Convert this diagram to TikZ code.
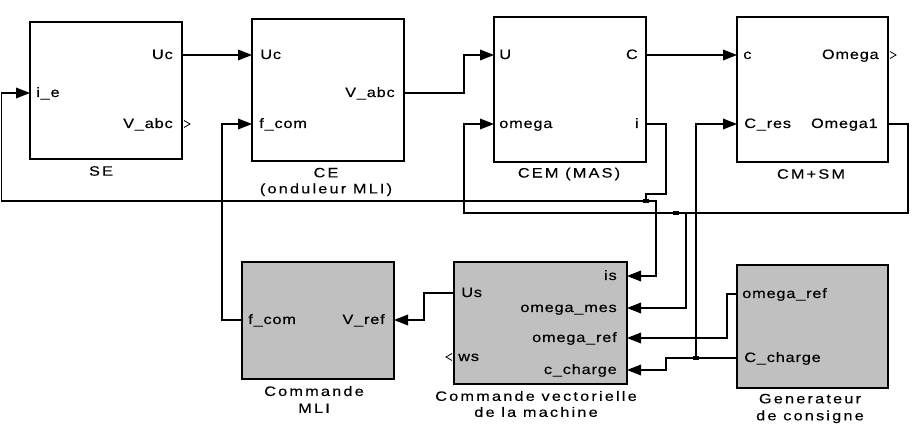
\documentclass[tikz,border=0pt]{standalone}
\usepackage{fontspec}
\setmainfont{Liberation Sans}
\newfontfamily\portfont[FakeStretch=1.2,LetterSpace=6,FakeBold=0.3]{Liberation Sans}
\newfontfamily\capfont[FakeStretch=1.2,LetterSpace=16,FakeBold=0.3]{Liberation Sans}
\usetikzlibrary{arrows.meta}
\definecolor{simgray}{RGB}{192,192,192}
\tikzset{
  blk/.style={draw, line width=1.5pt, fill=white, inner sep=0pt, outer sep=0pt},
  gblk/.style={blk, fill=simgray},
  conn/.style={line width=0.95pt},
  arr/.style={conn, -{Triangle[length=10.5pt,width=8pt]}},
  plab/.style={font=\portfont\fontsize{10.2}{11}\selectfont, inner sep=0pt},
  captext/.style={font=\capfont\fontsize{10.2}{12}\selectfont, align=center, inner sep=0pt},
  jdot/.style={fill, minimum width=4.5pt, minimum height=3.5pt, inner sep=0pt},
  omark/.style={line width=0.6pt},
}
\begin{document}
\begin{tikzpicture}[x=0.75pt,y=-0.75pt]
\useasboundingbox[fill=white] (0,0) rectangle (915,424);
% blocks
\node[blk,  minimum width=114pt,    minimum height=102.75pt] (SE)   at (106,90.5) {};
\node[blk,  minimum width=114pt,    minimum height=106.5pt]  (CE)   at (328,90)   {};
\node[blk,  minimum width=114pt,    minimum height=108.75pt] (CEM)  at (570,89.5) {};
\node[blk,  minimum width=113.25pt, minimum height=108.75pt] (CMSM) at (812.5,89.5) {};
\node[gblk, minimum width=114pt,    minimum height=87.75pt]  (MLI)  at (318,320.5) {};
\node[gblk, minimum width=129.75pt, minimum height=91.5pt]   (CV)   at (540.5,323) {};
\node[gblk, minimum width=113.25pt, minimum height=92.25pt]  (GEN)  at (812.5,326.5) {};
% port labels
\node[plab, anchor=base west] (se-ie) at (36,97)  {i\_e};
\node[plab, anchor=base east] (se-uc) at (173,59) {Uc};
\node[plab, anchor=base east] (se-v)  at (173,128) {V\_abc};
\node[plab, anchor=base west] (ce-uc) at (260,59) {Uc};
\node[plab, anchor=base west] (ce-f)  at (259,128) {f\_com};
\node[plab, anchor=base east] (ce-v)  at (395,97) {V\_abc};
\node[plab, anchor=base west] (cem-u) at (499,59) {U};
\node[plab, anchor=base west] (cem-om) at (499,128) {omega};
\node[plab, anchor=base east] (cem-c) at (638,59) {C};
\node[plab, anchor=base east] (cem-i) at (639,128) {i};
\node[plab, anchor=base west] (cm-c)  at (743,59) {c};
\node[plab, anchor=base west] (cm-cres) at (744,128) {C\_res};
\node[plab, anchor=base east] (cm-om) at (879,59) {Omega};
\node[plab, anchor=base east] (cm-om1) at (878,128) {Omega1};
\node[plab, anchor=base west] (mli-f) at (248,324) {f\_com};
\node[plab, anchor=base east] (mli-v) at (385,324) {V\_ref};
\node[plab, anchor=base west] (cv-us) at (461,297) {Us};
\node[plab, anchor=base west] (cv-ws) at (458,361) {ws};
\node[plab, anchor=base east] (cv-is) at (617,280) {is};
\node[plab, anchor=base east] (cv-om) at (617,312) {omega\_mes};
\node[plab, anchor=base east] (cv-or) at (617,342) {omega\_ref};
\node[plab, anchor=base east] (cv-cc) at (617,374) {c\_charge};
\node[plab, anchor=base west] (gen-or) at (742,298) {omega\_ref};
\node[plab, anchor=base west] (gen-cc) at (744,362) {C\_charge};
% captions
\node[captext] (cSE)   at (101,171) {SE};
\node[captext] (cCE)   at (326,182) {CE\\(onduleur MLI)};
\node[captext] (cCEM)  at (569,174) {CEM (MAS)};
\node[captext] (cCMSM) at (811,174) {CM+SM};
\node[captext, font=\capfont\fontsize{10.2}{12.75}\selectfont] (cMLI) at (314,399.5) {Commande\\MLI};
\node[captext] (cCV)   at (536,404) {Commande vectorielle\\de la machine};
\node[captext, font=\capfont\fontsize{10.2}{12.75}\selectfont] (cGEN) at (810,408.5) {Generateur\\de consigne};
% junctions
\node[jdot] (j1) at (646,201) {};
\node[jdot] (j2) at (676,213) {};
\node[jdot] (j3) at (696,358) {};
% connectors
\draw[arr] (SE.east |- 0,55) -- (CE.west |- 0,55);
\draw[arr] (CE.east |- 0,93) -- (464,93) |- (CEM.west |- 0,55);
\draw[arr] (CEM.east |- 0,55) -- (CMSM.west |- 0,55);
\draw[conn] (CEM.east |- 0,124) -- (666,124) |- (646,194) -- (j1.center);
\draw[arr] (j1.center) -- (1.5,201) |- (SE.west |- 0,93);
\draw[arr] (j1.center) -- (656,201) |- (CV.east |- 0,276);
\draw[conn] (CMSM.east |- 0,124) -| (908,213) -- (j2.center);
\draw[arr] (j2.center) -- (464,213) |- (CEM.west |- 0,124);
\draw[arr] (j2.center) -- (686,213) |- (CV.east |- 0,308);
\draw[conn] (GEN.west |- 0,358) -- (j3.center);
\draw[arr] (j3.center) |- (CMSM.west |- 0,124);
\draw[arr] (j3.center) -- (666,358) |- (CV.east |- 0,370);
\draw[arr] (GEN.west |- 0,294) -- (727,294) |- (CV.east |- 0,338);
\draw[arr] (CV.west |- 0,293) -- (424,293) |- (MLI.east |- 0,320);
\draw[arr] (MLI.west |- 0,320) -- (222,320) |- (CE.west |- 0,124);
% unconnected output port marks
\draw[omark] (SE.east |- 0,124) ++(2,-3.5) -- ++(6,3.5) -- ++(-6,3.5);
\draw[omark] (CMSM.east |- 0,55) ++(2,-3.5) -- ++(6,3.5) -- ++(-6,3.5);
\draw[omark] (CV.west |- 0,357) ++(-2,-3.5) -- ++(-6,3.5) -- ++(6,3.5);
\end{tikzpicture}
\end{document}
